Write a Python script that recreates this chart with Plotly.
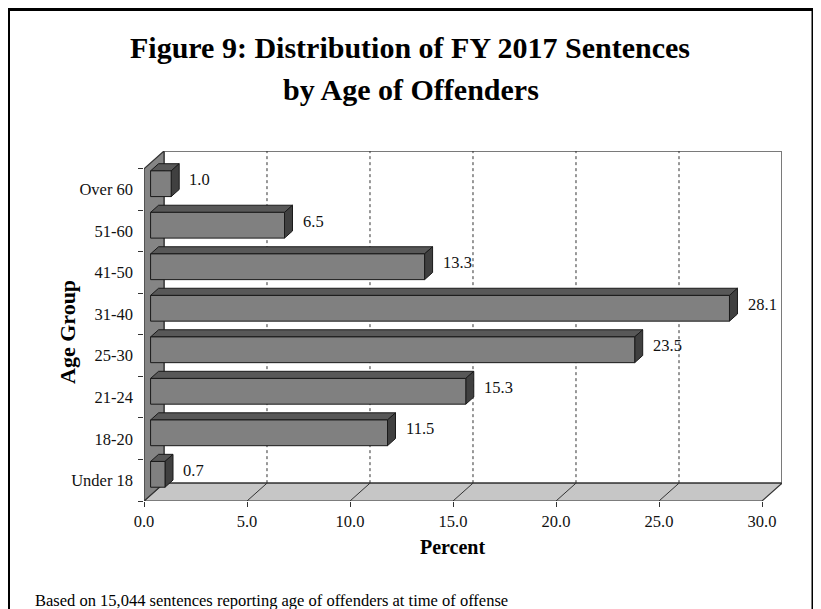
import plotly.graph_objects as go

# ---------------- data ----------------
categories = ["Under 18", "18-20", "21-24", "25-30", "31-40", "41-50", "51-60", "Over 60"]
percent = [0.7, 11.5, 15.3, 23.5, 28.1, 13.3, 6.5, 1.0]
x_tick_values = [0, 5, 10, 15, 20, 25, 30]
x_tick_labels = ["0.0", "5.0", "10.0", "15.0", "20.0", "25.0", "30.0"]
title_line1 = "Figure 9: Distribution of FY 2017 Sentences"
title_line2 = "by Age of Offenders"
x_title = "Percent"
y_title = "Age Group"
footnote = "Based on 15,044 sentences reporting age of offenders at time of offense"

# ---------------- style / geometry ----------------
OFF = 8                       # page body margin of the browser
W, H = 821 - OFF, 609 - OFF
ML, MR, MT, MB = 144 - OFF, 39, 151 - OFF, 108
X_MAX = 30
DX, DY = 0.97, 0.43          # depth vector in data units (pseudo 3D)
F0, F1 = 0.33, 0.73          # bar position inside the depth
BAR_H = 0.62
FONT = "Liberation Serif"
FRONT = "#808080"
TOP = "#585858"
SIDE = "#404040"
EDGE = "#1a1a1a"
LBL = 16.5

def px(x):
    return (x - OFF - ML) / (W - ML - MR)

def py(y):
    return (H - MB - (y - OFF)) / (H - MT - MB)

fig = go.Figure()

def poly(xs, ys, fill, line_color, width=1):
    fig.add_trace(go.Scatter(x=xs, y=ys, mode="lines", fill="toself", fillcolor=fill,
                             line=dict(color=line_color, width=width),
                             hoverinfo="skip", showlegend=False))

n = len(categories)
ybot, ytop = -0.5, n - 0.5

# back wall
poly([DX, X_MAX + DX, X_MAX + DX, DX, DX],
     [ybot + DY, ybot + DY, ytop + DY, ytop + DY, ybot + DY], "white", "#7a7a7a", 2)
# floor
poly([0, X_MAX, X_MAX + DX, DX, 0],
     [ybot, ybot, ybot + DY, ybot + DY, ybot], "#c6c6c6", "#333333", 1.2)
# left wall
poly([0, DX, DX, 0, 0],
     [ybot, ybot + DY, ytop + DY, ytop, ybot], "#858585", "#333333", 1.2)

# gridlines on back wall (dotted) and floor diagonals
for v in x_tick_values[1:-1]:
    fig.add_trace(go.Scatter(x=[v + DX, v + DX], y=[ybot + DY, ytop + DY], mode="lines",
                             line=dict(color="#333333", width=1, dash="dot"),
                             hoverinfo="skip", showlegend=False))
    fig.add_trace(go.Scatter(x=[v, v + DX], y=[ybot, ybot + DY], mode="lines",
                             line=dict(color="#333333", width=1),
                             hoverinfo="skip", showlegend=False))

# bars
for i, v in enumerate(percent):
    x0 = F0 * DX
    x1 = v + F0 * DX
    yc = i + F0 * DY
    yb, yt = yc - BAR_H / 2, yc + BAR_H / 2
    dx, dy = (F1 - F0) * DX, (F1 - F0) * DY
    # top face
    poly([x0, x1, x1 + dx, x0 + dx, x0], [yt, yt, yt + dy, yt + dy, yt], TOP, EDGE, 1)
    # right side face
    poly([x1, x1 + dx, x1 + dx, x1, x1], [yb, yb + dy, yt + dy, yt, yb], SIDE, EDGE, 1)
    # front face
    poly([x0, x1, x1, x0, x0], [yb, yb, yt, yt, yb], FRONT, EDGE, 1)

# value labels
for i, v in enumerate(percent):
    fig.add_annotation(x=v + F1 * DX + 0.4, y=i + 0.55 * DY, xref="x", yref="y",
                       text=f"{v:.1f}", showarrow=False, xanchor="left", yanchor="middle",
                       font=dict(family=FONT, size=LBL, color="#111111"))

# titles and notes
fig.add_annotation(x=px(410), y=py(47), xref="paper", yref="paper", text=f"<b>{title_line1}</b>",
                   showarrow=False, xanchor="center", yanchor="middle",
                   font=dict(family=FONT, size=30, color="black"))
fig.add_annotation(x=px(411), y=py(89), xref="paper", yref="paper", text=f"<b>{title_line2}</b>",
                   showarrow=False, xanchor="center", yanchor="middle",
                   font=dict(family=FONT, size=30, color="black"))
fig.add_annotation(x=px(452), y=py(547), xref="paper", yref="paper", text=f"<b>{x_title}</b>",
                   showarrow=False, xanchor="center", yanchor="middle",
                   font=dict(family=FONT, size=20, color="black"))
fig.add_annotation(x=px(67), y=py(332), xref="paper", yref="paper", text=f"<b>{y_title}</b>",
                   showarrow=False, xanchor="center", yanchor="middle", textangle=-90,
                   font=dict(family=FONT, size=22, color="black"))
fig.add_annotation(x=px(33), y=py(600), xref="paper", yref="paper", text=footnote,
                   showarrow=False, xanchor="left", yanchor="middle",
                   font=dict(family=FONT, size=16.5, color="black"))

# outer frame
fig.add_shape(type="rect", xref="paper", yref="paper",
              x0=px(8.5), x1=px(813), y0=py(625), y1=py(9.5),
              line=dict(color="black", width=3), fillcolor="rgba(0,0,0,0)", layer="above")

fig.update_layout(
    width=W, height=H, autosize=False,
    margin=dict(l=ML, r=MR, t=MT, b=MB),
    paper_bgcolor="white", plot_bgcolor="white",
    showlegend=False,
    xaxis=dict(range=[0, X_MAX + DX], tickmode="array", tickvals=x_tick_values,
               ticktext=x_tick_labels, ticks="outside", ticklen=5, tickcolor="#333333",
               showgrid=False, zeroline=False, showline=False,
               tickfont=dict(family=FONT, size=LBL, color="#111111"), fixedrange=True),
    yaxis=dict(range=[ybot, ytop + DY], tickmode="array", tickvals=list(range(n)),
               ticktext=categories, ticks="", ticklen=0, ticklabelstandoff=10,
               minor=dict(tickmode="array", tickvals=[k - 0.5 for k in range(n + 1)],
                          ticks="outside", ticklen=5, tickcolor="#333333", showgrid=False),
               showgrid=False, zeroline=False, showline=False,
               tickfont=dict(family=FONT, size=LBL, color="#111111"), fixedrange=True),
)

fig.write_html("out.html")
